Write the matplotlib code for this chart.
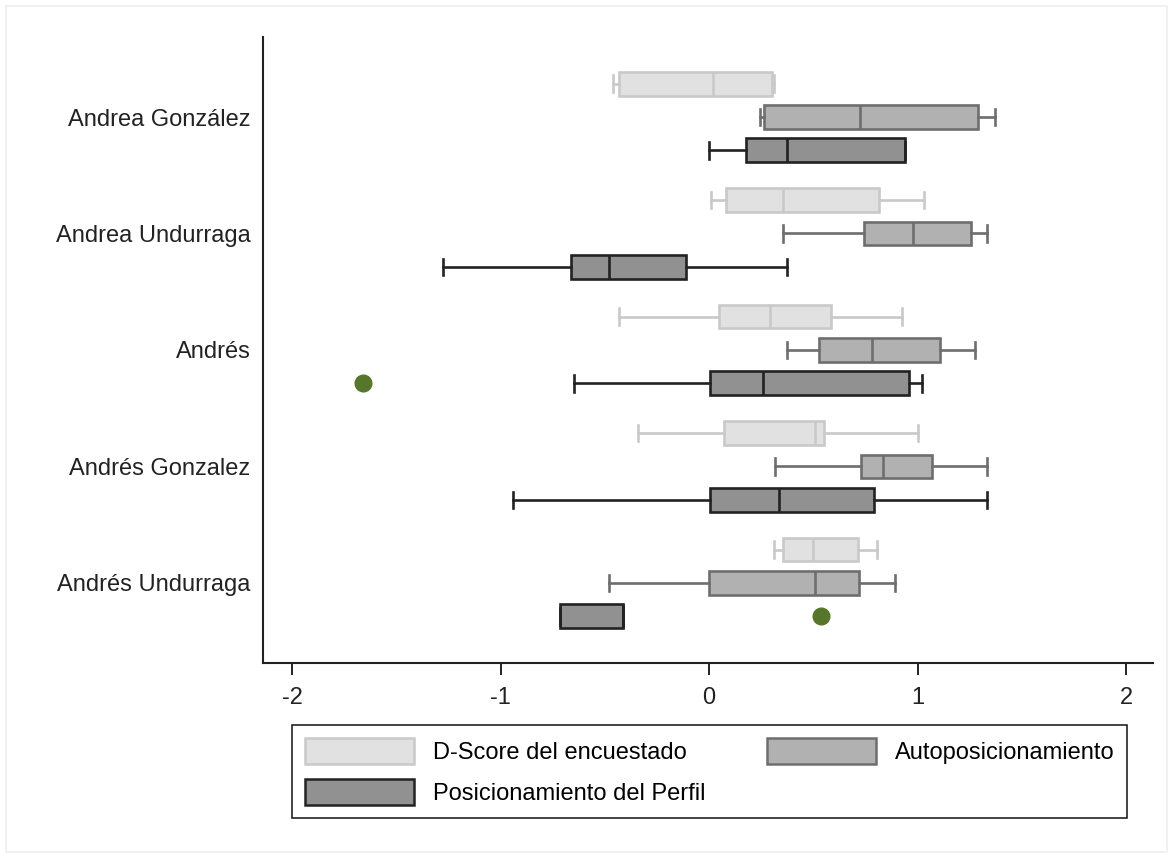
"""
    plot.py
    Horizontal box plots of three positioning measures for five profiles.
"""

import matplotlib
matplotlib.use("Agg")
import matplotlib.pyplot as plt
from matplotlib.patches import Patch, Rectangle

plt.rcParams['font.family'] = ['Liberation Sans', 'DejaVu Sans']

candidates = ["Andrea González", "Andrea Undurraga", "Andrés",
              "Andrés Gonzalez", "Andrés Undurraga"]

series_names = ["D-Score del encuestado", "Autoposicionamiento",
                "Posicionamiento del Perfil"]

# five-number summaries per candidate: whisker low, q1, median, q3, whisker high
dscore_whislo = [-0.46, 0.01, -0.43, -0.34, 0.31]
dscore_q1 = [-0.43, 0.08, 0.05, 0.07, 0.355]
dscore_med = [0.02, 0.355, 0.29, 0.51, 0.50]
dscore_q3 = [0.30, 0.815, 0.585, 0.55, 0.715]
dscore_whishi = [0.31, 1.03, 0.925, 1.0, 0.805]
dscore_fliers = [[], [], [], [], []]

auto_whislo = [0.245, 0.355, 0.375, 0.315, -0.48]
auto_q1 = [0.265, 0.745, 0.525, 0.73, 0.0]
auto_med = [0.725, 0.98, 0.78, 0.835, 0.51]
auto_q3 = [1.29, 1.255, 1.11, 1.07, 0.72]
auto_whishi = [1.37, 1.335, 1.275, 1.335, 0.89]
auto_fliers = [[], [], [], [], []]

perfil_whislo = [0.0, -1.275, -0.65, -0.94, -0.715]
perfil_q1 = [0.175, -0.66, 0.005, 0.005, -0.715]
perfil_med = [0.375, -0.48, 0.26, 0.335, -0.415]
perfil_q3 = [0.94, -0.11, 0.96, 0.79, -0.415]
perfil_whishi = [0.94, 0.375, 1.02, 1.335, -0.415]
perfil_fliers = [[], [], [-1.66], [], [0.535]]

x_ticks = [-2, -1, 0, 1, 2]


def make_stats(whislo, q1, med, q3, whishi, fliers):
    stats = []
    for i in range(len(med)):
        stats.append(dict(whislo=whislo[i], q1=q1[i], med=med[i], q3=q3[i],
                          whishi=whishi[i], fliers=fliers[i]))
    return stats


def main():
    fig = plt.figure(figsize=(11.73, 8.56), dpi=100)
    ax = fig.add_axes([0.2242, 0.2255, 0.7588, 0.7313])

    series = [
        (make_stats(dscore_whislo, dscore_q1, dscore_med, dscore_q3,
                    dscore_whishi, dscore_fliers), "#e1e1e1", "#c9c9c9", -0.287),
        (make_stats(auto_whislo, auto_q1, auto_med, auto_q3,
                    auto_whishi, auto_fliers), "#b1b1b1", "#6e6e6e", 0.0),
        (make_stats(perfil_whislo, perfil_q1, perfil_med, perfil_q3,
                    perfil_whishi, perfil_fliers), "#919191", "#222222", 0.287),
    ]

    flier_style = dict(marker='o', markerfacecolor='#56772b',
                       markeredgecolor='#56772b', markersize=12)

    for stats, fill, edge, offset in series:
        positions = [i + offset for i in range(len(candidates))]
        lw = 1.9
        ax.bxp(stats, positions=positions, orientation='horizontal',
               widths=0.205, capwidths=0.14, patch_artist=True,
               boxprops=dict(facecolor=fill, edgecolor=edge, linewidth=lw),
               medianprops=dict(color=edge, linewidth=lw),
               whiskerprops=dict(color=edge, linewidth=lw),
               capprops=dict(color=edge, linewidth=lw),
               flierprops=flier_style, manage_ticks=False)

    ax.set_xlim(-2.14, 2.13)
    ax.set_ylim(4.687, -0.687)
    ax.set_xticks(x_ticks)
    ax.set_xticklabels([str(t) for t in x_ticks])
    ax.set_yticks(range(len(candidates)))
    ax.set_yticklabels(candidates)

    ax.tick_params(axis='x', length=8.5, width=1.4, pad=9, labelsize=17,
                   colors='#222222')
    ax.tick_params(axis='y', length=0, pad=9, labelsize=17, colors='#222222')
    ax.spines['top'].set_visible(False)
    ax.spines['right'].set_visible(False)
    for side in ['left', 'bottom']:
        ax.spines[side].set_linewidth(1.5)
        ax.spines[side].set_color('#222222')

    handles = [
        Patch(facecolor=series[0][1], edgecolor=series[0][2], linewidth=1.8),
        Patch(facecolor=series[2][1], edgecolor=series[2][2], linewidth=1.8),
        Patch(facecolor=series[1][1], edgecolor=series[1][2], linewidth=1.8),
    ]
    labels = [series_names[0], series_names[2], series_names[1]]
    leg = fig.legend(handles, labels, ncol=2, mode='expand',
                     loc='upper left', bbox_to_anchor=(0.249, 0.0409, 0.712, 0.1122),
                     fontsize=17, handlelength=4.6, handleheight=1.35,
                     handletextpad=0.8, labelspacing=0.6, borderpad=0.55,
                     fancybox=False, framealpha=1, edgecolor='#111111',
                     borderaxespad=0)
    leg.get_frame().set_linewidth(1.1)

    # light outer border of the graph region
    fig.patches.append(Rectangle((0.005, 0.005), 0.99, 0.988, transform=fig.transFigure,
                                 fill=False, edgecolor='#eef0f0', linewidth=1.2))

    fig.savefig("out.png", dpi=100)


if __name__ == "__main__":
    main()
